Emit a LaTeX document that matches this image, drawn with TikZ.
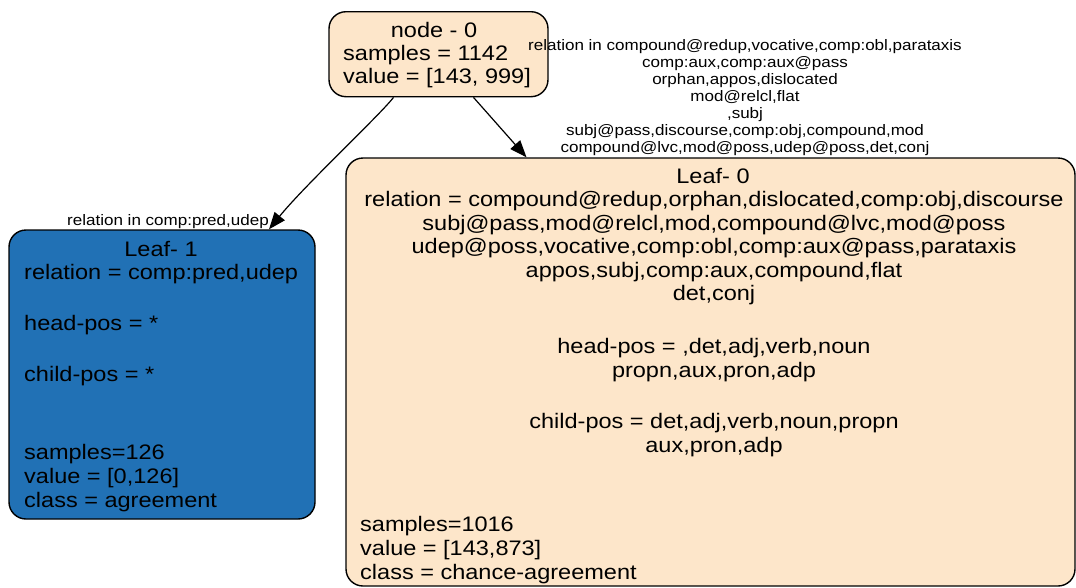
\documentclass[tikz,border=0pt]{standalone}
\usepackage{fontspec}
\usetikzlibrary{arrows.meta}
\newfontfamily\gvfont[FakeStretch=1.12]{Liberation Sans}
\newcommand{\gvn}{\gvfont\fontsize{21}{24}\selectfont}
\newcommand{\gvl}{\gvfont\fontsize{15.2}{17}\selectfont}
\definecolor{bisq}{HTML}{FDE6CA}
\definecolor{leafblue}{HTML}{2171B5}
\tikzset{
  box/.style={draw=black, line width=1.4pt, rounded corners=17pt, inner sep=0pt},
  txt/.style={font=\gvn, inner sep=0pt, anchor=base},
  txl/.style={font=\gvn, inner sep=0pt, anchor=base west},
  lbl/.style={font=\gvl, inner sep=0pt, align=center},
  conn/.style={draw=black, line width=1.2pt, -{Triangle[length=17pt,width=13pt]}}
}
\begin{document}
\begin{tikzpicture}[x=1pt,y=-1pt]
\useasboundingbox (0,0) rectangle (1076,587);
\clip (0,0) rectangle (1076,587);
% boxes
\node[box, fill=bisq, minimum width=219pt, minimum height=85pt] (n0) at (438.5,54.2) {};
\node[box, fill=leafblue, minimum width=306pt, minimum height=289pt] (l1) at (162,374.5) {};
\node[box, fill=bisq, minimum width=729pt, minimum height=428pt] (l0) at (710.5,372) {};
% node-0 text
\node[txt] (n0a) at (434,37) {node - 0};
\node[txl] (n0b) at (343,60) {samples = 1142};
\node[txl] (n0c) at (343,83) {value = [143, 999]};
% leaf-1 text
\node[txt] (l1a) at (161,256) {Leaf- 1};
\node[txl] (l1b) at (24,279) {relation = comp:pred,udep};
\node[txl] (l1c) at (24,330) {head-pos = *};
\node[txl] (l1d) at (24,381) {child-pos = *};
\node[txl] (l1e) at (24,459) {samples=126};
\node[txl] (l1f) at (24,483) {value = [0,126]};
\node[txl] (l1g) at (24,507) {class = agreement};
% leaf-0 text
\node[txt] (l0a) at (713,183) {Leaf- 0};
\node[txt] (l0b) at (714,206) {relation = compound@redup,orphan,dislocated,comp:obj,discourse};
\node[txt] (l0c) at (714,230) {subj@pass,mod@relcl,mod,compound@lvc,mod@poss};
\node[txt] (l0d) at (714,253) {udep@poss,vocative,comp:obl,comp:aux@pass,parataxis};
\node[txt] (l0e) at (714,277) {appos,subj,comp:aux,compound,flat};
\node[txt] (l0f) at (714,300) {det,conj};
\node[txt] (l0g) at (714,353) {head-pos = ,det,adj,verb,noun};
\node[txt] (l0h) at (714,377) {propn,aux,pron,adp};
\node[txt] (l0i) at (714,428) {child-pos = det,adj,verb,noun,propn};
\node[txt] (l0j) at (714,452) {aux,pron,adp};
\node[txl] (l0k) at (360,531) {samples=1016};
\node[txl] (l0l) at (360,555) {value = [143,873]};
\node[txl] (l0m) at (360,579) {class = chance-agreement};
% edges
\draw[conn] ([xshift=-45pt]n0.south) .. controls (380,115) and (305,185) .. ([xshift=107pt]l1.north);
\draw[conn] ([xshift=35pt]n0.south) -- ([xshift=-184pt]l0.north);
% edge labels
\node[lbl, anchor=base] (e1) at (168,225) {relation in comp:pred,udep};
\node[lbl] (e2) at (745,98) {relation in compound@redup,vocative,comp:obl,parataxis\\comp:aux,comp:aux@pass\\orphan,appos,dislocated\\mod@relcl,flat\\,subj\\subj@pass,discourse,comp:obj,compound,mod\\compound@lvc,mod@poss,udep@poss,det,conj};
\end{tikzpicture}
\end{document}
